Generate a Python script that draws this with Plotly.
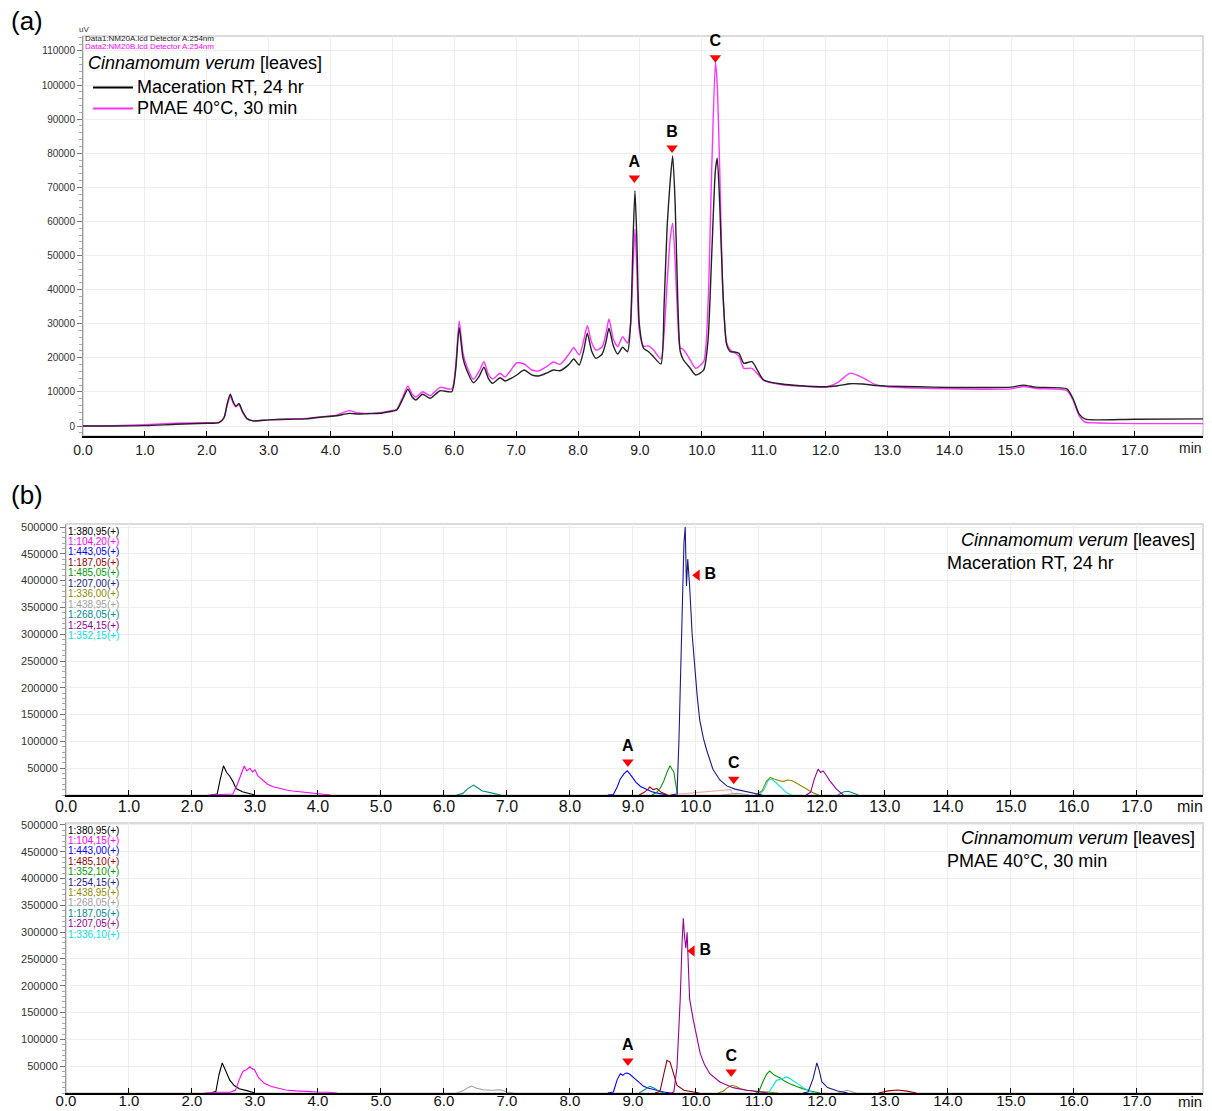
import plotly.graph_objects as go

W, H = 1212, 1111
FONT = "Liberation Sans, Arial, sans-serif"
NARROW = "Liberation Sans Narrow, Arial Narrow, Liberation Sans, Arial, sans-serif"

# ---------------- Panel (a): HPLC-UV, 254 nm ----------------
t_a = [
    0.00, 0.50, 1.00, 1.50, 2.00, 2.20, 2.28, 2.33, 2.38, 2.43,
    2.47, 2.52, 2.58, 2.65, 2.75, 3.00, 3.30, 3.60, 3.90, 4.10,
    4.30, 4.45, 4.60, 4.80, 4.95, 5.07, 5.17, 5.25, 5.32, 5.38,
    5.49, 5.61, 5.77, 5.96, 6.02, 6.08, 6.14, 6.20, 6.31, 6.40,
    6.48, 6.55, 6.62, 6.74, 6.82, 6.92, 7.01, 7.13, 7.25, 7.36,
    7.50, 7.60, 7.71, 7.85, 7.93, 8.02, 8.09, 8.15, 8.22, 8.29,
    8.39, 8.45, 8.50, 8.57, 8.64, 8.72, 8.80, 8.85, 8.89, 8.92,
    8.95, 8.99, 9.06, 9.14, 9.22, 9.34, 9.39, 9.44, 9.49, 9.53,
    9.57, 9.61, 9.65, 9.70, 9.81, 9.90, 10.03, 10.10, 10.16, 10.22,
    10.25, 10.29, 10.34, 10.40, 10.46, 10.53, 10.60, 10.68, 10.81, 11.00,
    11.30, 11.59, 12.00, 12.20, 12.40, 12.60, 12.80, 13.00, 13.50, 14.00,
    14.50, 15.00, 15.20, 15.40, 15.90, 16.00, 16.10, 16.20, 16.40, 17.00,
    18.10,
]
uv_maceration = [
    0, 0, 100, 500, 800, 1000, 2500, 6500, 9300, 7000,
    5800, 6600, 4200, 2200, 1500, 1800, 2000, 2100, 2700, 3000,
    3700, 3500, 3600, 3720, 4200, 4690, 8000, 10760, 8500, 7620,
    9300, 8120, 10350, 10060, 16000, 28830, 20000, 16420, 12700, 14500,
    17210, 14000, 12520, 14160, 13200, 14000, 14960, 16420, 15000, 14660,
    15600, 16420, 16220, 18000, 19650, 17890, 22000, 27180, 22000, 19850,
    21110, 24500, 28650, 23500, 21110, 23080, 21790, 30000, 55000, 69000,
    55000, 30000, 22790, 21800, 20320, 18180, 35000, 58450, 72000, 79180,
    65000, 38000, 22000, 19500, 17000, 14960, 16420, 25000, 50000, 75000,
    78500, 65000, 40000, 24000, 21790, 21700, 21320, 18390, 18860, 13490,
    12300, 11820, 11500, 11800, 12400, 12300, 11900, 11700, 11500, 11300,
    11300, 11400, 12000, 11400, 10900, 8000, 3500, 2000, 1800, 2000,
    2100,
]
uv_pmae = [
    0, 100, 400, 800, 1000, 1100, 2400, 6000, 8800, 6600,
    5600, 6300, 4000, 2100, 1500, 1800, 2000, 2200, 2800, 3200,
    4500, 3800, 3700, 3900, 4400, 4900, 8600, 11730, 9300, 8500,
    10060, 8890, 11350, 10850, 17000, 30790, 21500, 17600, 13700, 16000,
    18860, 15200, 13780, 15450, 14370, 16500, 18560, 18180, 16500, 16130,
    17500, 18770, 18090, 21000, 22960, 20820, 25000, 29410, 24500, 22290,
    23170, 27000, 31380, 25500, 23250, 26190, 24340, 30000, 47000, 57680,
    46000, 28000, 23370, 23500, 22290, 19650, 27000, 42000, 55000, 59440,
    48000, 32000, 23000, 22490, 19500, 16920, 18860, 35000, 75000, 106700,
    100000, 75000, 40000, 24500, 22290, 21500, 20500, 16920, 16920, 13400,
    12100, 11700, 11400, 12800, 15500, 14200, 12200, 11500, 11100, 10900,
    10800, 10900, 11600, 11000, 10400, 7600, 3000, 1100, 900, 700,
    700,
]
a_mark_t = [8.91, 9.52, 10.22]
a_mark_v = [72700, 81500, 108000]
peak_names = ["A", "B", "C"]
y_ticks_a = [0, 10000, 20000, 30000, 40000, 50000, 60000, 70000, 80000, 90000, 100000, 110000]
x_ticks = [0, 1, 2, 3, 4, 5, 6, 7, 8, 9, 10, 11, 12, 13, 14, 15, 16, 17]
x_tick_text = ["0.0", "1.0", "2.0", "3.0", "4.0", "5.0", "6.0", "7.0", "8.0", "9.0",
               "10.0", "11.0", "12.0", "13.0", "14.0", "15.0", "16.0", "17.0"]

# ---------------- Panel (b) top: Maceration RT, 24 hr (LC-MS ions) ----------------
mac_ions = ["1:380,95(+)", "1:104,20(+)", "1:443,05(+)", "1:187,05(+)", "1:485,05(+)",
            "1:207,00(+)", "1:336,00(+)", "1:438,95(+)", "1:268,05(+)", "1:254,15(+)", "1:352,15(+)"]
mac_colors = ["#000000", "#ff00ff", "#0000ff", "#990000", "#009900",
              "#1a1a8c", "#8c8c00", "#a0a0a0", "#008b8b", "#990099", "#00e5e5"]
mac_380_t = [2.30, 2.40, 2.45, 2.50, 2.55, 2.60, 2.65, 2.70, 2.80, 2.90, 3.00]
mac_380_v = [0, 2000, 30000, 54500, 42000, 35000, 25000, 12000, 6000, 3000, 0]
mac_104_t = [2.25, 2.45, 2.65, 2.72, 2.78, 2.83, 2.87, 2.92, 2.96, 3.00, 3.05, 3.13, 3.20,
             3.29, 3.40, 3.50, 3.60, 3.72, 3.87, 4.00, 4.20]
mac_104_v = [0, 1000, 2000, 20000, 40000, 54000, 45000, 50000, 43000, 47000, 35000, 27800, 20000,
             15400, 12000, 9200, 7500, 6000, 3500, 2000, 0]
mac_443_t = [8.60, 8.69, 8.75, 8.80, 8.86, 8.91, 8.96, 9.05, 9.12, 9.20, 9.30, 9.41, 9.55]
mac_443_v = [0, 1000, 15000, 30000, 40000, 45200, 38000, 23600, 16000, 11000, 6000, 3000, 0]
mac_187_t = [9.10, 9.18, 9.24, 9.27, 9.32, 9.38, 9.45, 9.55]
mac_187_v = [0, 5000, 11000, 14900, 10000, 12000, 5000, 0]
mac_485_t = [9.30, 9.38, 9.44, 9.49, 9.55, 9.59, 9.62, 9.65, 9.68, 9.71]
mac_485_v = [0, 5000, 14000, 26000, 45000, 54500, 48000, 43000, 20000, 0]
mac_207_t = [9.60, 9.70, 9.73, 9.76, 9.79, 9.81, 9.83, 9.85, 9.87, 9.90, 9.94, 9.98, 10.02,
             10.06, 10.12, 10.17, 10.22, 10.27, 10.38, 10.49, 10.62, 10.75, 10.90, 11.05]
mac_207_v = [0, 2000, 100000, 260000, 400000, 470000, 500000, 390000, 440000, 390000, 300000, 240000, 185000,
             140000, 105000, 84000, 66000, 48000, 28000, 17000, 11000, 8000, 4000, 0]
mac_336_t = [10.95, 11.05, 11.12, 11.18, 11.24, 11.30, 11.38, 11.45, 11.52, 11.60, 11.70, 11.80, 11.88, 11.95]
mac_336_v = [0, 8000, 26000, 33000, 30000, 28000, 25000, 28000, 27000, 22000, 15000, 8000, 3000, 0]
mac_438_t = [10.40, 10.55, 10.65, 10.75, 10.85]
mac_438_v = [0, 2500, 3000, 2000, 0]
mac_268_t = [6.20, 6.30, 6.38, 6.47, 6.53, 6.60, 6.75, 6.90, None, 12.25, 12.35, 12.42, 12.50, 12.58]
mac_268_v = [0, 3000, 12000, 18600, 14000, 8000, 4000, 0, None, 0, 6000, 7000, 4000, 0]
mac_254_t = [11.75, 11.82, 11.88, 11.94, 11.98, 12.02, 12.08, 12.13, 12.23, 12.34]
mac_254_v = [0, 5000, 30000, 48300, 42000, 45000, 35000, 26000, 11000, 0]
mac_352_t = [11.00, 11.08, 11.15, 11.20, 11.28, 11.36, 11.44, 11.52]
mac_352_v = [0, 10000, 28000, 30000, 22000, 12000, 4000, 0]
mac_trace_t = [9.55, 10.55, 10.58, 10.65]
mac_trace_v = [0, 10000, 3000, 0]
mac_mark_t = [8.92, 10.02, 10.60]
mac_mark_v = [61500, 410000, 29500]

# ---------------- Panel (b) bottom: PMAE 40 °C, 30 min ----------------
pmae_ions = ["1:380,95(+)", "1:104,15(+)", "1:443,00(+)", "1:485,10(+)", "1:352,10(+)",
             "1:254,15(+)", "1:438,95(+)", "1:268,05(+)", "1:187,05(+)", "1:207,05(+)", "1:336,10(+)"]
pmae_colors = ["#000000", "#ff00ff", "#0000ff", "#990000", "#009900",
               "#1a1a8c", "#8c8c00", "#a0a0a0", "#008b8b", "#990099", "#00e5e5"]
pm_380_t = [2.30, 2.38, 2.43, 2.48, 2.54, 2.60, 2.67, 2.75, 2.87, 3.00]
pm_380_v = [0, 3000, 35000, 56000, 40000, 24000, 14000, 8000, 4400, 0]
pm_104_t = [2.20, 2.40, 2.60, 2.69, 2.75, 2.81, 2.86, 2.92, 2.96, 2.99, 3.06, 3.15, 3.26, 3.40,
            3.49, 3.65, 3.77, 4.00, 4.17, 4.30]
pm_104_v = [0, 1500, 1500, 5000, 25000, 40600, 43000, 49000, 45000, 44000, 28000, 18000, 12000, 8000,
            5500, 4000, 3000, 2000, 1500, 0]
pm_443_t = [8.60, 8.69, 8.75, 8.80, 8.84, 8.88, 8.91, 8.95, 9.03, 9.10, 9.17, 9.25, 9.33, 9.41, 9.49, 9.60]
pm_443_v = [0, 2000, 25000, 36000, 33000, 37000, 37300, 35000, 26700, 19000, 12400, 9000, 6200, 4000, 1900, 0]
pm_485_t = [9.35, 9.43, 9.48, 9.54, 9.59, 9.64, 9.70, 9.81, 9.97, 10.05, None, 12.90, 13.05, 13.20, 13.35, 13.50]
pm_485_v = [0, 3000, 30000, 61000, 57800, 39200, 14300, 5000, 1900, 0, None, 0, 4000, 5500, 3500, 0]
pm_352_t = [10.95, 11.00, 11.06, 11.12, 11.17, 11.21, 11.25, 11.33, 11.41, 11.49, 11.57, 11.65, 11.81, 11.97]
pm_352_v = [0, 3000, 20000, 34800, 41000, 37000, 33000, 28600, 22000, 17400, 13000, 10000, 3700, 0]
pm_254_t = [11.70, 11.78, 11.86, 11.92, 11.95, 12.00, 12.09, 12.25, 12.41]
pm_254_v = [0, 2000, 26700, 56000, 45400, 20500, 10000, 3700, 0]
pm_438_t = [10.35, 10.43, 10.50, 10.57, 10.64, 10.71, 10.82, 10.93, 11.14, 11.30]
pm_438_v = [0, 3000, 10000, 14300, 12000, 8000, 5000, 3700, 1200, 0]
pm_268_t = [6.20, 6.30, 6.38, 6.44, 6.52, 6.62, 6.75, 6.90, 7.00, 7.10, None, 12.25, 12.40, 12.55]
pm_268_v = [0, 4000, 10000, 13000, 9000, 6000, 5000, 6000, 2000, 0, None, 0, 5000, 0]
pm_187_t = [9.10, 9.18, 9.27, 9.34, 9.42, 9.50]
pm_187_v = [0, 6000, 12400, 9000, 3000, 0]
pm_207_t = [9.60, 9.65, 9.70, 9.75, 9.78, 9.80, 9.82, 9.84, 9.86, 9.88, 9.90, 9.96, 10.02, 10.07,
            10.14, 10.22, 10.38, 10.59, 10.80, 11.00, 11.15]
pm_207_v = [0, 2000, 48500, 173000, 280000, 326000, 290000, 270000, 300000, 230000, 175000, 135600, 98000, 73000,
            52000, 36000, 20500, 10000, 5000, 1900, 0]
pm_336_t = [11.15, 11.22, 11.28, 11.36, 11.44, 11.49, 11.54, 11.62, 11.70, 11.78, 11.87]
pm_336_v = [0, 12000, 23600, 26000, 30000, 27000, 23600, 17000, 10000, 5000, 0]
pm_mark_t = [8.92, 9.94, 10.56]
pm_mark_v = [59700, 265000, 39000]

y_ticks_b = [50000, 100000, 150000, 200000, 250000, 300000, 350000, 400000, 450000, 500000]

# ---------------- helpers (layout only) ----------------
def px_x(px):
    return px / W


def px_y(py):
    return 1 - py / H


fig = go.Figure()

# Panel (a) traces
fig.add_trace(go.Scatter(x=t_a, y=uv_pmae, mode="lines", line=dict(color="#ff33ff", width=1.4, shape="spline", smoothing=0.6),
                         xaxis="x", yaxis="y"))
fig.add_trace(go.Scatter(x=t_a, y=uv_maceration, mode="lines", line=dict(color="#222222", width=1.4, shape="spline", smoothing=0.6),
                         xaxis="x", yaxis="y"))
fig.add_trace(go.Scatter(x=a_mark_t, y=a_mark_v, mode="markers+text", text=["<b>%s</b>" % n for n in peak_names],
                         textposition="top center",
                         textfont=dict(family=FONT, size=16, color="black"),
                         marker=dict(symbol="triangle-down", size=10, color="#ff0000"), xaxis="x", yaxis="y",
                         cliponaxis=False))

# Panel (b) top traces
mac_series = [
    (mac_380_t, mac_380_v, mac_colors[0]),
    (mac_104_t, mac_104_v, mac_colors[1]),
    (mac_268_t, mac_268_v, mac_colors[8]),
    (mac_443_t, mac_443_v, mac_colors[2]),
    (mac_187_t, mac_187_v, mac_colors[3]),
    (mac_485_t, mac_485_v, mac_colors[4]),
    (mac_trace_t, mac_trace_v, "#f4a8a8"),
    (mac_438_t, mac_438_v, mac_colors[7]),
    (mac_352_t, mac_352_v, mac_colors[10]),
    (mac_336_t, mac_336_v, mac_colors[6]),
    (mac_254_t, mac_254_v, mac_colors[9]),
    (mac_207_t, mac_207_v, mac_colors[5]),
]
for tt, vv, cc in mac_series:
    fig.add_trace(go.Scatter(x=tt, y=vv, mode="lines", line=dict(color=cc, width=1.1), xaxis="x2", yaxis="y2",
                             connectgaps=False))

pm_series = [
    (pm_380_t, pm_380_v, pmae_colors[0]),
    (pm_104_t, pm_104_v, pmae_colors[1]),
    (pm_268_t, pm_268_v, pmae_colors[7]),
    (pm_443_t, pm_443_v, pmae_colors[2]),
    (pm_187_t, pm_187_v, pmae_colors[8]),
    (pm_485_t, pm_485_v, pmae_colors[3]),
    (pm_438_t, pm_438_v, pmae_colors[6]),
    (pm_352_t, pm_352_v, pmae_colors[4]),
    (pm_336_t, pm_336_v, pmae_colors[10]),
    (pm_254_t, pm_254_v, pmae_colors[5]),
    (pm_207_t, pm_207_v, pmae_colors[9]),
]
for tt, vv, cc in pm_series:
    fig.add_trace(go.Scatter(x=tt, y=vv, mode="lines", line=dict(color=cc, width=1.1), xaxis="x3", yaxis="y3",
                             connectgaps=False))

# peak markers panel (b)
for mt, mv, xa, ya in [(mac_mark_t, mac_mark_v, "x2", "y2"), (pm_mark_t, pm_mark_v, "x3", "y3")]:
    for i in (0, 2):
        fig.add_trace(go.Scatter(x=[mt[i]], y=[mv[i]], mode="markers+text", text=["<b>%s</b>" % peak_names[i]],
                                 textposition="top center", textfont=dict(family=FONT, size=16, color="black"),
                                 marker=dict(symbol="triangle-down", size=10, color="#ff0000"),
                                 xaxis=xa, yaxis=ya, cliponaxis=False))
    fig.add_trace(go.Scatter(x=[mt[1]], y=[mv[1]], mode="markers+text", text=["<b>%s</b>" % peak_names[1]],
                             textposition="middle right", textfont=dict(family=FONT, size=16, color="black"),
                             marker=dict(symbol="triangle-left", size=10, color="#ff0000"),
                             xaxis=xa, yaxis=ya, cliponaxis=False))

grid = "#eeeeee"
common_x = dict(tickmode="array", tickvals=x_ticks, ticktext=x_tick_text, showline=True, linecolor="black",
                linewidth=2, ticks="inside", ticklen=5, tickcolor="black", tickwidth=1, showgrid=True,
                gridcolor=grid, zeroline=False, automargin=False)
common_y = dict(tickmode="array", tickformat="d", showline=True, linecolor="#999999", linewidth=1,
                ticks="outside", ticklen=5, tickcolor="#777777", showgrid=True, gridcolor=grid,
                zeroline=False, automargin=False)

fig.update_layout(
    width=W, height=H, margin=dict(l=0, r=0, t=0, b=0, pad=0, autoexpand=False), showlegend=False,
    paper_bgcolor="white", plot_bgcolor="white",
    font=dict(family=FONT, color="#333333"),
    xaxis=dict(domain=[px_x(83), px_x(1203)], range=[0, 18.1], anchor="y",
               tickfont=dict(family=NARROW, size=14, color="#222222"), **common_x),
    yaxis=dict(domain=[px_y(436), px_y(36)], range=[-2930, 114370], anchor="x",
               tickvals=y_ticks_a, tickfont=dict(family=FONT, size=10, color="#333333"),
               minor=dict(dtick=2000, ticks="outside", ticklen=3, tickcolor="#aaaaaa", showgrid=False),
               **common_y),
    xaxis2=dict(domain=[px_x(66), px_x(1203)], range=[0, 18.05], anchor="y2", ticklabelstandoff=-4,
                tickfont=dict(family=FONT, size=16, color="#111111"), **common_x),
    yaxis2=dict(domain=[px_y(795), px_y(524)], range=[0, 505600], anchor="x2",
                tickvals=y_ticks_b, tickfont=dict(family=FONT, size=11, color="#333333"),
                minor=dict(dtick=10000, ticks="outside", ticklen=3, tickcolor="#aaaaaa", showgrid=False),
                **common_y),
    xaxis3=dict(domain=[px_x(66), px_x(1203)], range=[0, 18.05], anchor="y3", ticklabelstandoff=-7,
                tickfont=dict(family=FONT, size=15, color="#111111"), **common_x),
    yaxis3=dict(domain=[px_y(1093), px_y(823)], range=[0, 503700], anchor="x3",
                tickvals=y_ticks_b, tickfont=dict(family=FONT, size=11, color="#333333"),
                minor=dict(dtick=10000, ticks="outside", ticklen=3, tickcolor="#aaaaaa", showgrid=False),
                **common_y),
)

shapes = []
for (x0, x1, y0, y1) in [(83, 1203, 36, 436), (66, 1203, 524, 795), (66, 1203, 823, 1093)]:
    shapes.append(dict(type="rect", xref="paper", yref="paper", x0=px_x(x0), x1=px_x(x1),
                       y0=px_y(y1), y1=px_y(y0), line=dict(color="#d0d0d0", width=1.5), layer="below"))
# legend lines panel (a)
shapes.append(dict(type="line", xref="paper", yref="paper", x0=px_x(93), x1=px_x(133), y0=px_y(87.5), y1=px_y(87.5),
                   line=dict(color="black", width=2)))
shapes.append(dict(type="line", xref="paper", yref="paper", x0=px_x(93), x1=px_x(133), y0=px_y(108.5), y1=px_y(108.5),
                   line=dict(color="#ff33ff", width=2)))
fig.update_layout(shapes=shapes)

ann = []


def note(text, xp, yp, size, color="black", xanchor="left", family=FONT):
    ann.append(dict(text=text, x=px_x(xp), y=px_y(yp), xref="paper", yref="paper", showarrow=False,
                    xanchor=xanchor, yanchor="middle", font=dict(family=family, size=size, color=color)))


note("(a)", 9, 21, 26)
note("(b)", 9, 495, 26)
note("uV", 77, 29, 8, "#333333")
note("Data1:NM20A.lcd Detector A:254nm", 83, 38.5, 8, "#222222")
note("Data2:NM20B.lcd Detector A:254nm", 83, 46.5, 8, "#ff00ff")
note("<i>Cinnamomum verum</i> [leaves]", 86, 63, 18)
note("Maceration RT, 24 hr", 135, 87, 18)
note("PMAE 40°C, 30 min", 135, 108.5, 18)
note("min", 1190, 448, 14, "#222222", "center", NARROW)
note("min", 1190, 806, 16, "#111111", "center")
note("min", 1190, 1101, 15, "#111111", "center")

note("<i>Cinnamomum verum</i> [leaves]", 1197, 540, 18, "black", "right")
note("Maceration RT, 24 hr", 945, 563, 18)
note("<i>Cinnamomum verum</i> [leaves]", 1197, 838, 18, "black", "right")
note("PMAE 40°C, 30 min", 945, 861, 18)

for i, (lab, col) in enumerate(zip(mac_ions, mac_colors)):
    note(lab, 66, 531 + i * 10.45, 10, col)
for i, (lab, col) in enumerate(zip(pmae_ions, pmae_colors)):
    note(lab, 66, 830 + i * 10.4, 10, col)

fig.update_layout(annotations=ann)

fig.write_html("out.html")
